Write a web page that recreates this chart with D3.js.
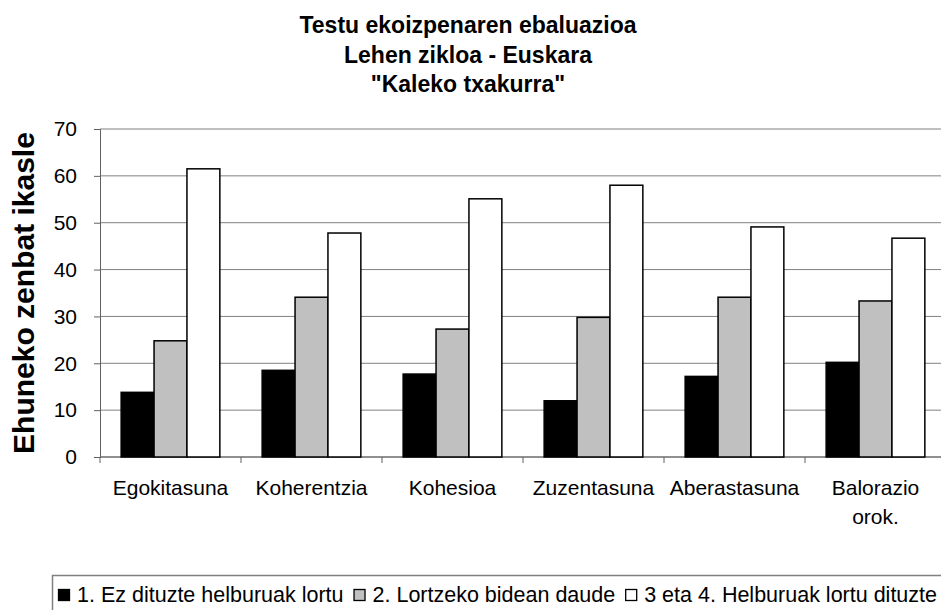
<!DOCTYPE html>
<html>
<meta charset="utf-8">
<script src="https://d3js.org/d3.v7.min.js"></script>
<style>
  body { margin: 0; background: #fff; }
  text { font-family: "Liberation Sans", Arial, sans-serif; }
</style>
<body>
<div id="chart"></div>
<script>
// data
const categories = ["Egokitasuna", "Koherentzia", "Kohesioa", "Zuzentasuna", "Aberastasuna", "Balorazio orok."];
const seriesNames = ["1. Ez dituzte helburuak lortu", "2. Lortzeko bidean daude", "3 eta 4. Helburuak lortu dituzte"];
const ez = [13.8, 18.5, 17.7, 12.0, 17.2, 20.2];
const bidean = [24.8, 34.1, 27.3, 29.8, 34.1, 33.3];
const lortu = [61.5, 47.8, 55.1, 58.0, 49.1, 46.7];
const yTicks = [0, 10, 20, 30, 40, 50, 60, 70];
const titleLines = ["Testu ekoizpenaren ebaluazioa", "Lehen zikloa - Euskara", "\"Kaleko txakurra\""];
const colors = ["#000000", "#c0c0c0", "#ffffff"];

const W = 941, H = 610;
const margin = {top: 129, left: 100};
const width = 846, height = 328;

const svg = d3.select("#chart").append("svg")
    .attr("width", W).attr("height", H);

// title
svg.selectAll(".title").data(titleLines).enter().append("text")
    .attr("class", "title")
    .attr("x", 468).attr("y", (d, i) => [33, 63, 92][i])
    .attr("text-anchor", "middle")
    .style("font-size", "23px").style("font-weight", "bold")
    .text(d => d);

const g = svg.append("g").attr("transform", "translate(" + margin.left + "," + margin.top + ")");

const x0 = d3.scaleBand().domain(categories).range([0, width]).paddingInner(0.3).paddingOuter(0.15);
const x1 = d3.scaleBand().domain([0, 1, 2]).range([0, x0.bandwidth()]);
const y = d3.scaleLinear().domain([0, 70]).range([height, 0]);

// gridlines
g.selectAll(".grid").data(yTicks).enter().append("line")
    .attr("x1", 0).attr("x2", width)
    .attr("y1", d => y(d)).attr("y2", d => y(d))
    .attr("stroke", "#808080").attr("stroke-width", 1);

// y axis
const yAxis = g.append("g").call(d3.axisLeft(y).tickValues(yTicks).tickSize(6).tickPadding(17));
yAxis.select(".domain").attr("stroke", "#606060");
yAxis.selectAll(".tick line").attr("stroke", "#606060");
yAxis.selectAll("text").style("font-size", "21px").attr("fill", "#000")
    .style("font-family", "Liberation Sans, Arial, sans-serif");

// x axis line and band ticks
const xa = g.append("g").attr("transform", "translate(0," + height + ")");
xa.append("line").attr("x1", 0).attr("x2", width).attr("stroke", "#606060");
const bounds = d3.range(categories.length + 1).map(i => i * width / categories.length);
xa.selectAll(".xt").data(bounds).enter().append("line")
    .attr("x1", d => d).attr("x2", d => d).attr("y1", 0).attr("y2", 6)
    .attr("stroke", "#606060");

// category labels
const labels = xa.selectAll(".cat").data(categories).enter().append("text")
    .attr("text-anchor", "middle")
    .attr("x", d => x0(d) + x0.bandwidth() / 2)
    .attr("y", 38)
    .style("font-size", "21px");
labels.each(function(d) {
  const parts = d === "Balorazio orok." ? ["Balorazio", "orok."] : [d];
  const t = d3.select(this);
  parts.forEach((p, i) => {
    t.append("tspan").attr("x", x0(d) + x0.bandwidth() / 2).attr("dy", i ? 29 : 0).text(p);
  });
});

// bars
const rows = categories.map((c, i) => ({cat: c, vals: [ez[i], bidean[i], lortu[i]]}));
const grp = g.selectAll(".grp").data(rows).enter().append("g")
    .attr("transform", d => "translate(" + x0(d.cat) + ",0)");
grp.selectAll("rect").data(d => d.vals.map((v, k) => ({v, k}))).enter().append("rect")
    .attr("x", d => x1(d.k))
    .attr("width", x1.bandwidth())
    .attr("y", d => y(d.v))
    .attr("height", d => y(0) - y(d.v))
    .attr("fill", d => colors[d.k])
    .attr("stroke", "#000").attr("stroke-width", 1.5);

// y axis title
svg.append("text")
    .attr("transform", "translate(34," + (margin.top + height / 2) + ") rotate(-90)")
    .attr("text-anchor", "middle")
    .style("font-size", "30px").style("font-weight", "bold")
    .text("Ehuneko zenbat ikasle");

// legend
const leg = svg.append("g").attr("transform", "translate(52,575)");
leg.append("rect").attr("x", 0.5).attr("y", 0.5).attr("width", 930).attr("height", 45)
    .attr("fill", "#fff").attr("stroke", "#808080").attr("stroke-width", 1.5);
let lx = 6;
seriesNames.forEach((s, i) => {
  leg.append("rect").attr("x", lx + 0.5).attr("y", 14.5).attr("width", 11).attr("height", 11)
      .attr("fill", colors[i]).attr("stroke", "#000").attr("stroke-width", 1.3);
  const t = leg.append("text").attr("x", lx + 19).attr("y", 27)
      .style("font-size", "21.5px").text(s);
  lx = lx + 19 + t.node().getComputedTextLength() + 10;
});
</script>
</body>
</html>
